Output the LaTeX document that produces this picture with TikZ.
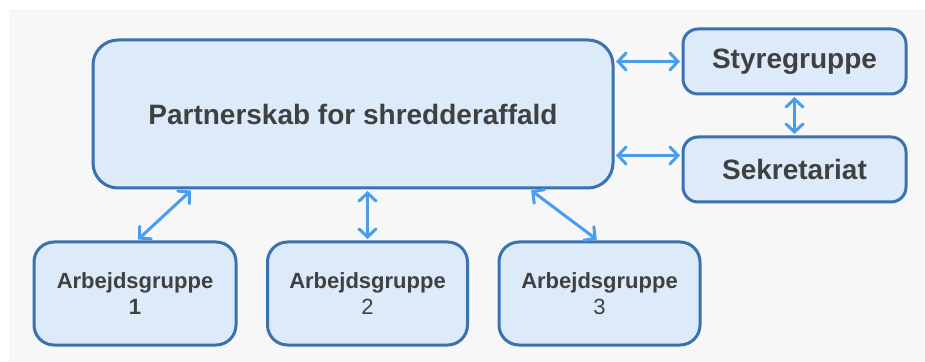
\documentclass[tikz,border=0pt]{standalone}
\usepackage{fontspec}
\setmainfont{Liberation Sans}
\usetikzlibrary{arrows.meta, positioning, calc}
\usepackage{xcolor}
\definecolor{panelgray}{RGB}{247,247,247}
\definecolor{boxfill}{RGB}{220,234,250}
\definecolor{boxline}{RGB}{58,114,176}
\definecolor{linkblue}{RGB}{74,157,235}
\definecolor{txtgray}{RGB}{64,64,64}

\begin{document}
\begin{tikzpicture}[x=1pt, y=1pt,
  grp/.style={draw=boxline, line width=3pt, fill=boxfill, rounded corners=15pt, text=txtgray, align=center, inner sep=0pt},
  link/.style={{Straight Barb[length=8pt,width=17pt,line cap=round]}-{Straight Barb[length=8pt,width=17pt,line cap=round]}, draw=linkblue, line width=3pt, shorten <=1.5pt, shorten >=1.5pt}]
\useasboundingbox (0,0) rectangle (925,361);
\fill[panelgray] (9,0) rectangle (925,352);
\node[grp, rounded corners=25pt, minimum width=520pt, minimum height=148pt, font=\fontsize{28}{34}\selectfont\bfseries] (main) at (353,247) {Partnerskab for shredderaffald};
\node[grp, minimum width=223pt, minimum height=65pt, font=\fontsize{28}{34}\selectfont\bfseries] (styre) at (794.5,299.5) {Styregruppe};
\node[grp, minimum width=223pt, minimum height=65pt, font=\fontsize{28}{34}\selectfont\bfseries] (sekr) at (794.5,191.5) {Sekretariat};
\node[grp, rounded corners=20pt, minimum width=202pt, minimum height=103pt, font=\fontsize{22}{26}\selectfont] (ag1) at (135,67.5) {\bfseries Arbejdsgruppe\\\bfseries 1};
\node[grp, rounded corners=20pt, minimum width=200pt, minimum height=103pt, font=\fontsize{22}{26}\selectfont] (ag2) at (367.5,67.5) {\bfseries Arbejdsgruppe\\2};
\node[grp, rounded corners=20pt, minimum width=201pt, minimum height=103pt, font=\fontsize{22}{26}\selectfont] (ag3) at (599.5,67.5) {\bfseries Arbejdsgruppe\\3};
\coordinate (sk) at ([yshift=14pt]sekr.west);
\draw[link] (styre.west -| main.east) -- (styre.west);
\draw[link] (sk -| main.east) -- (sk);
\draw[link] (styre.south) -- (sekr.north);
\draw[link] ([xshift=-161pt]main.south) -- ([xshift=2pt]ag1.north);
\draw[link] (ag2.north |- main.south) -- (ag2.north);
\draw[link] ([xshift=177pt]main.south) -- ([xshift=-1.5pt]ag3.north);
\end{tikzpicture}
\end{document}
